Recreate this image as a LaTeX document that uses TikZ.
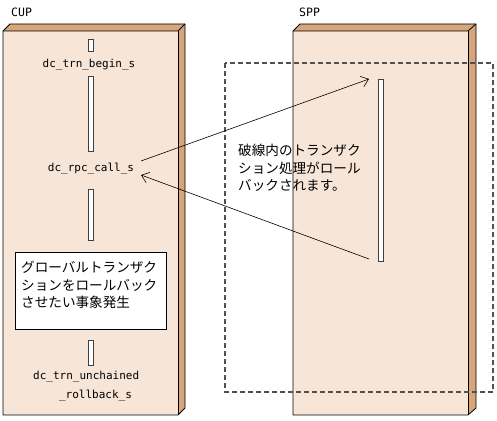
\documentclass[tikz,border=0pt]{standalone}
\usepackage{fontspec}
\newfontfamily\jp{Noto Sans CJK JP}
\newfontfamily\mono{DejaVu Sans Mono}
\usetikzlibrary{arrows.meta}
\definecolor{frontc}{HTML}{F7E6D8}
\definecolor{sidec}{HTML}{D6A57A}
\definecolor{dashc}{HTML}{505050}
\definecolor{barc}{HTML}{404040}
\tikzset{
  face/.style={draw=black, line width=0.8pt, line join=round},
  bar/.style={draw=barc, fill=white, line width=0.7pt, minimum width=5pt, inner sep=0pt},
  fname/.style={font=\mono\fontsize{11}{18.5}\selectfont, inner sep=1pt},
  jptext/.style={font=\jp\fontsize{13.6}{17.5}\selectfont, align=left, inner sep=0pt},
  lbl/.style={font=\mono\fontsize{11.5}{12}\selectfont, inner sep=0pt, anchor=west},
  msg/.style={draw=black, line width=0.6pt, -{Straight Barb[length=7pt,width=11pt,line width=0.6pt]}},
  dashbox/.style={draw=dashc, line width=1.2pt, dash pattern=on 5pt off 3pt}
}
\begin{document}
\begin{tikzpicture}[x=1pt,y=-1pt]
\useasboundingbox (0,0) rectangle (497,420);
% CUP box
\fill[sidec] (3,31) -- (10,24) -- (185,24) -- (178,31) -- cycle;
\fill[sidec] (178,31) -- (185,24) -- (185,408) -- (178,415) -- cycle;
\fill[frontc] (3,31) rectangle (178,415);
\draw[face] (3,31) -- (10,24) -- (185,24) -- (185,408) -- (178,415) -- (3,415) -- cycle;
\draw[face] (3,31) -- (178,31) -- (185,24);
\draw[face] (178,31) -- (178,415);
\node[lbl] (cup) at (11,12) {CUP};
% SPP box
\fill[sidec] (293,31) -- (300,24) -- (476,24) -- (468,31) -- cycle;
\fill[sidec] (468,31) -- (476,24) -- (476,408) -- (468,415) -- cycle;
\fill[frontc] (293,31) rectangle (468,415);
\draw[face] (293,31) -- (300,24) -- (476,24) -- (476,408) -- (468,415) -- (293,415) -- cycle;
\draw[face] (293,31) -- (468,31) -- (476,24);
\draw[face] (468,31) -- (468,415);
\node[lbl] (spp) at (299,12) {SPP};
% dashed region
\draw[dashbox] (225,63) rectangle (493,392);
% CUP lifeline
\node[bar, minimum height=12pt] (b1) at (90.5,45) {};
\node[fname] (begin) at (89,65) {dc\_trn\_begin\_s};
\node[bar, minimum height=75pt] (b2) at (90.5,113.5) {};
\node[fname] (rpc) at (91,169) {dc\_rpc\_call\_s};
\node[bar, minimum height=51pt] (b3) at (90.5,214.5) {};
\node[draw=black, fill=white, line width=0.8pt, minimum width=151pt, minimum height=77pt, inner sep=0pt] (ev) at (90.5,290.5) {};
\node[jptext, anchor=north west] (evt) at (21,261) {グローバルトランザク\\ションをロールバック\\させたい事象発生};
\node[bar, minimum height=25pt] (b4) at (90.5,352.5) {};
\node[fname, anchor=north west, align=left] (rb) at (32,370) {dc\_trn\_unchained\\\hspace{4.3ex}\_rollback\_s};
% SPP lifeline
\node[bar, minimum height=182pt] (sb) at (380.5,170) {};
\coordinate (in1) at (369,79);
\coordinate (out1) at (369,259);
\coordinate (rpcout) at (141,161);
\coordinate (rpcin) at (141,175);
\draw[msg] (rpcout) -- (in1);
\draw[msg] (out1) -- (rpcin);
\node[jptext, anchor=north west] (note) at (238,144) {破線内のトランザク\\ション処理がロール\\バックされます。};
\end{tikzpicture}
\end{document}
